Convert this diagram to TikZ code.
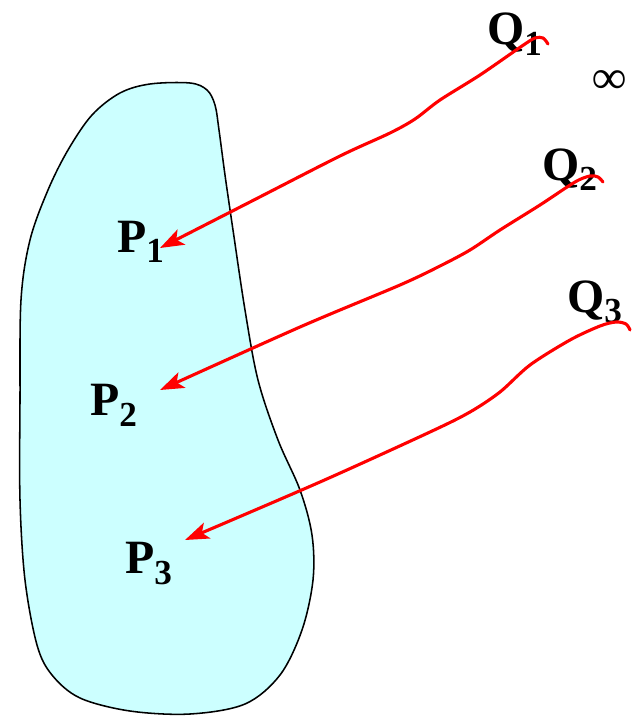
\documentclass[tikz,border=0pt]{standalone}
\usepackage{fontspec}
\setmainfont{Liberation Serif}
\usetikzlibrary{arrows.meta}
\definecolor{blobfill}{HTML}{CCFFFF}
\newcommand\lblsub[2]{#1\raisebox{-0.23em}{\fontsize{25}{25}\selectfont #2}}
\tikzset{
  lbl/.style={font=\fontsize{34}{40}\selectfont\bfseries, inner sep=0pt, anchor=base west},
  arr/.style={draw=red, line width=2.2pt, line cap=round, -{Stealth[length=17pt,width=12pt,inset=4pt]}},
  blob/.style={draw=black, line width=1.1pt, fill=blobfill}
}
\begin{document}
\begin{tikzpicture}[x=0.025cm,y=-0.025cm]
\useasboundingbox (0,0) rectangle (639,716);
% region
\draw[blob] plot[smooth cycle, tension=0.55] coordinates {
 (190,83) (207,90) (215,105) (219,130) (225,175) (233,230) (245,310) (258,380)
 (278,440) (300,490) (312,535) (313,580) (302,630) (280,675) (245,704) (190,714)
 (130,711) (80,698) (52,675) (37,645) (25,580) (20,500) (20,400) (21,300)
 (30,240) (48,190) (68,150) (92,115) (120,93) (150,84)};
% labels
\node[lbl] (Q1) at (487,45) {\lblsub{Q}{1}};
\node[lbl] (Q2) at (542,180) {\lblsub{Q}{2}};
\node[lbl] (Q3) at (567,312) {\lblsub{Q}{3}};
\node[lbl, anchor=center] (inf) at (610,82) {∞};
\node[lbl] (P1) at (117,252) {\lblsub{P}{1}};
\node[lbl] (P2) at (90,415) {\lblsub{P}{2}};
\node[lbl] (P3) at (125,573) {\lblsub{P}{3}};
% endpoints
\coordinate (q1s) at (548,44);
\coordinate (p1e) at (160,248);
\coordinate (q2s) at (603,182);
\coordinate (p2e) at (160,390);
\coordinate (q3s) at (630,330);
\coordinate (p3e) at (185,540);
% connectors
\draw[arr] plot[smooth, tension=0.5] coordinates {(q1s) (543,38) (535,38) (522,46) (480,75) (440,100) (415,119) (390,133) (340,156) (250,202) (p1e)};
\draw[arr] plot[smooth, tension=0.5] coordinates {(q2s) (598,177) (590,176) (575,182) (540,205) (500,230) (470,250) (440,266) (400,285) (300,327) (p2e)};
\draw[arr] plot[smooth, tension=0.5] coordinates {(q3s) (626,324) (616,322) (600,326) (570,340) (530,365) (500,392) (470,412) (430,432) (320,482) (p3e)};
\end{tikzpicture}
\end{document}
